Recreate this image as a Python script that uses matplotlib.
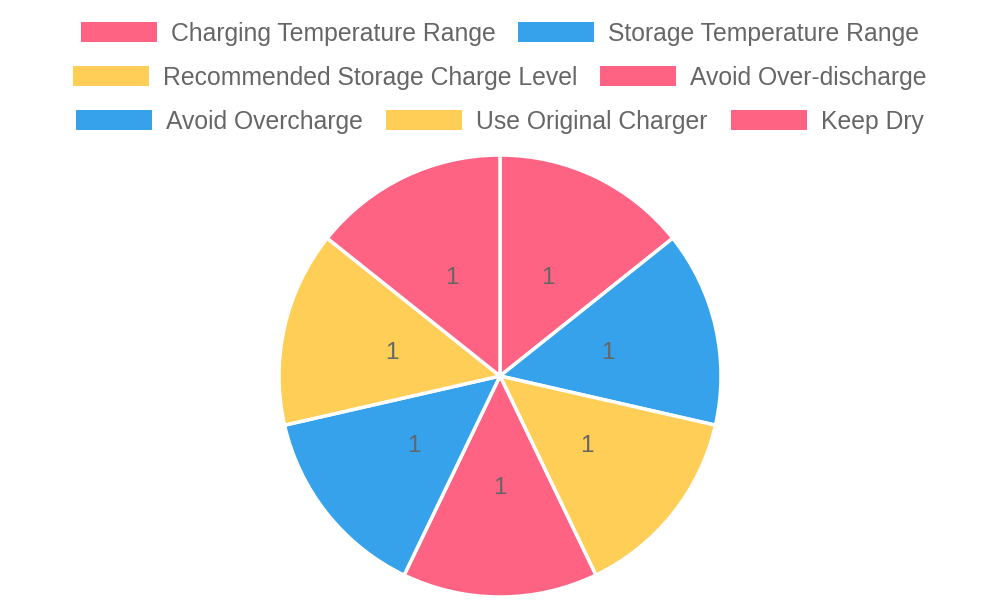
import numpy as np
import matplotlib
matplotlib.use('Agg')
import matplotlib.pyplot as plt
from matplotlib.patches import Rectangle

labels = ['Charging Temperature Range', 'Storage Temperature Range',
          'Recommended Storage Charge Level', 'Avoid Over-discharge',
          'Avoid Overcharge', 'Use Original Charger', 'Keep Dry']
values = [1, 1, 1, 1, 1, 1, 1]
colors = ['#FF6384', '#36A2EB', '#FFCE56', '#FF6384', '#36A2EB', '#FFCE56', '#FF6384']
legend_rows = [[0, 1], [2, 3], [4, 5, 6]]

plt.rcParams['font.family'] = ['Liberation Sans', 'DejaVu Sans']
W, H = 1000, 600
fig = plt.figure(figsize=(W / 100, H / 100), dpi=100)

# pie: centre (500, 376) px, radius 221 px
cx, cy, r = 500, 376, 221
ax = fig.add_axes([(cx - r) / W, 1 - (cy + r) / H, 2 * r / W, 2 * r / H])
wedges, _ = ax.pie(values, colors=colors, startangle=90, counterclock=False,
                   radius=1.0, wedgeprops=dict(edgecolor='white', linewidth=2.5))
ax.set_xlim(-1, 1)
ax.set_ylim(-1, 1)
ax.set_aspect('equal')
ax.axis('off')

total = float(sum(values))
angle = 90.0
for v in values:
    span = 360.0 * v / total
    mid = np.deg2rad(angle - span / 2)
    ax.text(0.5 * np.cos(mid), 0.5 * np.sin(mid) - 0.005, str(v), ha='center', va='center',
            fontsize=17.5, color='#666666')
    angle -= span

# legend drawn by hand, rows centred like Chart.js
fs = 17.8
box_w, box_h, pad, gap = 76, 20, 14, 23
row_y = [32, 76, 120]
renderer = fig.canvas.get_renderer()
for row, yc in zip(legend_rows, row_y):
    widths = []
    for i in row:
        t = fig.text(0, 0, labels[i], fontsize=fs)
        widths.append(t.get_window_extent(renderer).width)
        t.remove()
    total_w = sum(box_w + pad + w for w in widths) + gap * (len(row) - 1)
    x = (W - total_w) / 2
    for i, w in zip(row, widths):
        fig.patches.append(Rectangle((x / W, 1 - (yc + box_h / 2) / H), box_w / W, box_h / H,
                                     transform=fig.transFigure, facecolor=colors[i],
                                     edgecolor='none'))
        fig.text((x + box_w + pad) / W, 1 - yc / H, labels[i], fontsize=fs,
                 color='#666666', ha='left', va='center_baseline')
        x += box_w + pad + w + gap

fig.savefig('out.png', dpi=100)
